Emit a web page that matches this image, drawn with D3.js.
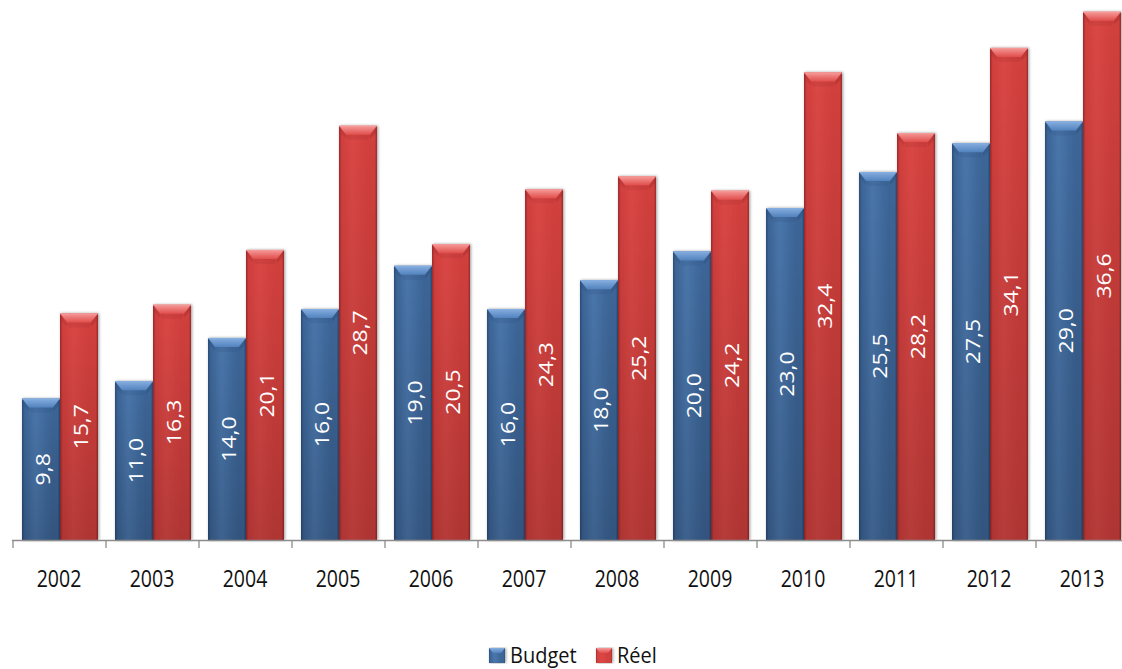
<!DOCTYPE html>
<html>
<head>
<meta charset="utf-8">
<script src="https://cdn.jsdelivr.net/npm/d3@7"></script>
<style>
  html, body { margin: 0; padding: 0; background: #fff; }
  svg { display: block; }
</style>
</head>
<body>
<svg id="chart" width="1122" height="669"></svg>
<script>
// Yearly budget vs actual figures
const years = ["2002", "2003", "2004", "2005", "2006", "2007", "2008", "2009", "2010", "2011", "2012", "2013"];
const seriesNames = ["Budget", "Réel"];
const budget = [9.8, 11.0, 14.0, 16.0, 19.0, 16.0, 18.0, 20.0, 23.0, 25.5, 27.5, 29.0];
const reel = [15.7, 16.3, 20.1, 28.7, 20.5, 24.3, 25.2, 24.2, 32.4, 28.2, 34.1, 36.6];

const rows = years.map((y, i) => ({ year: y, values: [
  { key: "Budget", value: budget[i] },
  { key: "Réel", value: reel[i] }
]}));

const svg = d3.select("#chart");
const baseY = 540;

const x0 = d3.scaleBand().domain(years).range([13, 13 + 93 * years.length]).paddingInner(0).paddingOuter(0);
const x1 = d3.scaleBand().domain(seriesNames).range([9, 85]).paddingInner(0).paddingOuter(0);
const y = d3.scaleLinear().domain([0, 37.42]).range([baseY, 0]);

const palette = {
  "Budget": { dark: "#2b4c78", mid: "#3c6597", light: "#4a76ab", bevelTop: "#86aee0", bevelBot: "#5282bd" },
  "Réel":   { dark: "#9c2a2a", mid: "#d13f3d", light: "#da4745", bevelTop: "#f59a98", bevelBot: "#e04e4c" }
};

const defs = svg.append("defs");
const shadow = defs.append("filter").attr("id", "barShadow")
  .attr("x", "-20%").attr("y", "-5%").attr("width", "140%").attr("height", "110%");
shadow.append("feDropShadow").attr("dx", 1).attr("dy", 0).attr("stdDeviation", 1.6)
  .attr("flood-color", "#000").attr("flood-opacity", 0.4);

seriesNames.forEach((name, k) => {
  const c = palette[name];
  const h = defs.append("linearGradient").attr("id", "body" + k).attr("x1", 0).attr("x2", 1).attr("y1", 0).attr("y2", 0);
  [[0, c.dark], [0.07, c.mid], [0.35, c.light], [0.8, c.mid], [0.94, c.mid], [1, c.dark]]
    .forEach(([o, col]) => h.append("stop").attr("offset", o).attr("stop-color", col));
  const b = defs.append("linearGradient").attr("id", "bevel" + k).attr("x1", 0).attr("x2", 0).attr("y1", 0).attr("y2", 1);
  b.append("stop").attr("offset", 0).attr("stop-color", c.bevelTop);
  b.append("stop").attr("offset", 1).attr("stop-color", c.bevelBot);
});
const shade = defs.append("linearGradient").attr("id", "shade").attr("x1", 0).attr("x2", 0).attr("y1", 0).attr("y2", 1);
shade.append("stop").attr("offset", 0).attr("stop-color", "#000").attr("stop-opacity", 0);
shade.append("stop").attr("offset", 1).attr("stop-color", "#000").attr("stop-opacity", 0.17);

// Bars
const groups = svg.append("g").selectAll("g").data(rows).join("g")
  .attr("transform", d => `translate(${x0(d.year)},0)`);

const bars = groups.selectAll("g.bar").data(d => d.values).join("g")
  .attr("class", "bar")
  .attr("transform", d => `translate(${x1(d.key)},${y(d.value)})`);

const bw = x1.bandwidth();
bars.append("rect")
  .attr("width", bw).attr("height", d => baseY - y(d.value))
  .attr("fill", d => `url(#body${seriesNames.indexOf(d.key)})`)
  .attr("filter", "url(#barShadow)");
bars.append("rect")
  .attr("width", bw).attr("height", d => baseY - y(d.value))
  .attr("fill", "url(#shade)");
// chamfered top
bars.append("polygon")
  .attr("points", `7,9 ${bw - 7},9 ${bw - 9},14 9,14`)
  .attr("fill", d => palette[d.key].dark).attr("opacity", 0.18);
bars.append("polygon")
  .attr("points", `0,0 ${bw},0 ${bw - 7},9 7,9`)
  .attr("fill", d => `url(#bevel${seriesNames.indexOf(d.key)})`);
bars.append("polyline")
  .attr("points", `0,0.5 ${bw},0.5`)
  .attr("stroke", d => palette[d.key].bevelTop).attr("stroke-width", 1).attr("fill", "none");
bars.append("polygon")
  .attr("points", `0,0 7,9 7,13 0,6`)
  .attr("fill", d => palette[d.key].dark).attr("opacity", 0.25);
bars.append("polygon")
  .attr("points", `${bw},0 ${bw - 7},9 ${bw - 7},13 ${bw},6`)
  .attr("fill", d => palette[d.key].dark).attr("opacity", 0.35);

// Value labels, rotated, centred in each bar
const fmt = v => d3.format(".1f")(v).replace(".", ",");
bars.append("text")
  .attr("transform", d => `translate(${bw / 2 + 1},${(baseY - y(d.value)) / 2}) scale(1,1.12) rotate(-90)`)
  .attr("text-anchor", "middle")
  .attr("dominant-baseline", "central")
  .attr("fill", "#fff")
  .attr("font-family", "'Open Sans', sans-serif")
  .attr("font-size", 20.5)
  .text(d => fmt(d.value));

// Category axis
const axis = svg.append("g").attr("transform", `translate(0,${baseY})`);
axis.append("line").attr("x1", 12).attr("x2", 1122).attr("y1", 0.5).attr("y2", 0.5)
  .attr("stroke", "#8c8c8c").attr("stroke-width", 1.3);
const boundaries = years.map(yr => x0(yr)).concat([x0.range()[1]]);
axis.selectAll("line.tick").data(boundaries).join("line").attr("class", "tick")
  .attr("x1", d => d).attr("x2", d => d).attr("y1", 0).attr("y2", 8)
  .attr("stroke", "#8c8c8c").attr("stroke-width", 1.3);
axis.selectAll("text").data(years).join("text")
  .attr("transform", d => `translate(${x0(d) + x0.bandwidth() / 2 - 0.5},47) scale(1,1.22)`)
  .attr("text-anchor", "middle")
  .attr("fill", "#111")
  .attr("font-family", "'Open Sans', sans-serif")
  .attr("font-size", 19.5)
  .text(d => d);

// Legend
const legend = svg.append("g");
const legendItems = [{ key: "Budget", x: 489 }, { key: "Réel", x: 596 }];
legendItems.forEach((it, k) => {
  const g = legend.append("g").attr("transform", `translate(${it.x},648)`);
  g.append("rect").attr("width", 16).attr("height", 15)
    .attr("fill", `url(#body${k})`).attr("filter", "url(#barShadow)");
  g.append("polygon").attr("points", "0,0 16,0 12,5 4,5").attr("fill", `url(#bevel${k})`);
  g.append("text")
    .attr("transform", "translate(21,14.5) scale(1,1.1)")
    .attr("fill", "#111")
    .attr("font-family", "'Open Sans', sans-serif")
    .attr("font-size", 20)
    .text(it.key);
});
</script>
</body>
</html>
